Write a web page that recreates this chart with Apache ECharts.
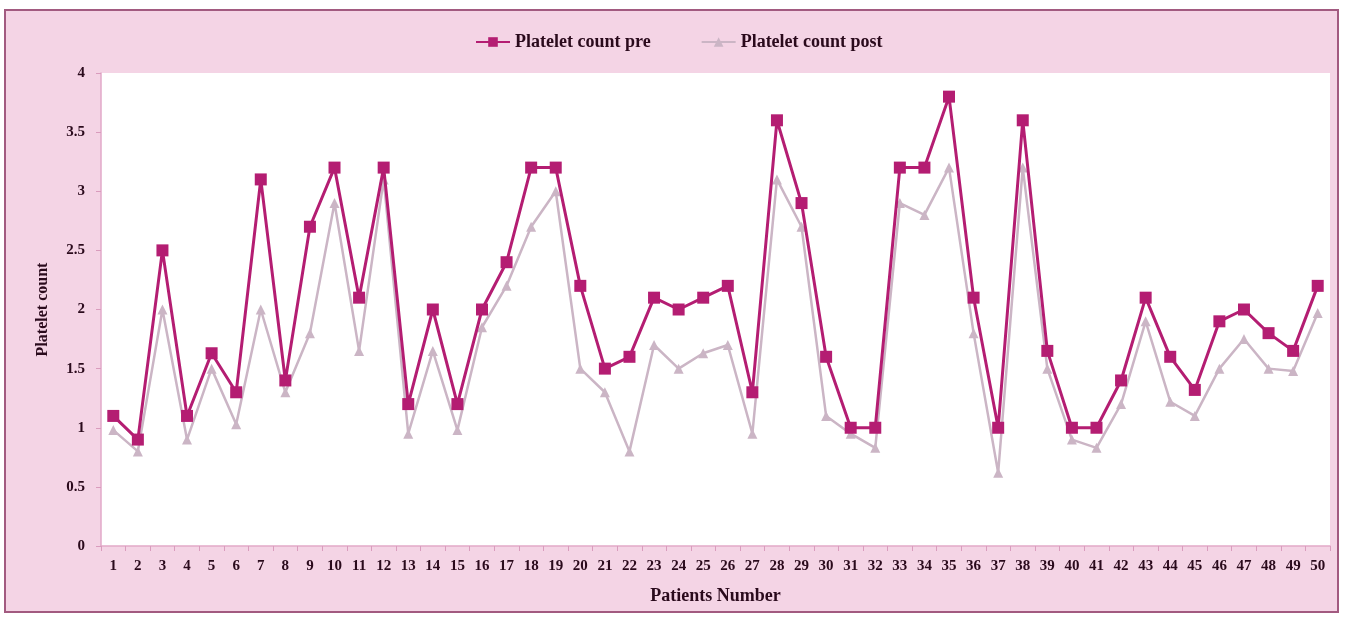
<!DOCTYPE html>
<html>
<head>
<meta charset="utf-8">
<script src="https://cdn.jsdelivr.net/npm/echarts@6/dist/echarts.min.js"></script>
<style>
  html, body { margin: 0; padding: 0; background: #ffffff; }
  #chart { width: 1347px; height: 617px; }
</style>
</head>
<body>
<div id="chart"></div>
<script>
var patients = [];
for (var i = 1; i <= 50; i++) patients.push(String(i));

var preCount = [1.1, 0.9, 2.5, 1.1, 1.63, 1.3, 3.1, 1.4, 2.7, 3.2,
  2.1, 3.2, 1.2, 2.0, 1.2, 2.0, 2.4, 3.2, 3.2, 2.2,
  1.5, 1.6, 2.1, 2.0, 2.1, 2.2, 1.3, 3.6, 2.9, 1.6,
  1.0, 1.0, 3.2, 3.2, 3.8, 2.1, 1.0, 3.6, 1.65, 1.0,
  1.0, 1.4, 2.1, 1.6, 1.32, 1.9, 2.0, 1.8, 1.65, 2.2];

var postCount = [0.98, 0.8, 2.0, 0.9, 1.5, 1.03, 2.0, 1.3, 1.8, 2.9,
  1.65, 3.1, 0.95, 1.65, 0.98, 1.85, 2.2, 2.7, 3.0, 1.5,
  1.3, 0.8, 1.7, 1.5, 1.63, 1.7, 0.95, 3.1, 2.7, 1.1,
  0.95, 0.83, 2.9, 2.8, 3.2, 1.8, 0.62, 3.2, 1.5, 0.9,
  0.83, 1.2, 1.9, 1.22, 1.1, 1.5, 1.75, 1.5, 1.48, 1.97];

var echart = echarts.init(document.getElementById("chart"));
var textFont = {
  fontFamily: "Liberation Serif",
  fontWeight: "bold",
  color: "#2a0a1c",
};

var option = {
  animation: false,
  graphic: [
    {
      type: "rect",
      z: -10,
      silent: true,
      shape: { x: 5, y: 10, width: 1333, height: 602 },
      style: { fill: "#f4d4e5", stroke: "#a25a80", lineWidth: 2 },
    },
  ],
  legend: {
    top: 28,
    left: 470,
    itemGap: 50,
    itemWidth: 34,
    itemHeight: 12,
    textStyle: Object.assign({ fontSize: 18 }, textFont),
    data: ["Platelet count pre", "Platelet count post"],
  },
  grid: {
    left: 101,
    right: 17,
    top: 73,
    bottom: 71,
    show: true,
    backgroundColor: "#ffffff",
    borderWidth: 0,
  },
  xAxis: {
    type: "category",
    data: patients,
    name: "Patients Number",
    nameLocation: "middle",
    nameGap: 41,
    nameTextStyle: Object.assign({ fontSize: 18 }, textFont),
    axisLine: { lineStyle: { color: "#e2a9c8", width: 1.5 } },
    axisTick: { show: true, length: 5, lineStyle: { color: "#d99cbd" } },
    axisLabel: Object.assign({ fontSize: 15, margin: 13, interval: 0 }, textFont),
  },
  yAxis: {
    type: "value",
    min: 0,
    max: 4,
    interval: 0.5,
    name: "Platelet count",
    nameLocation: "middle",
    nameGap: 50,
    nameTextStyle: Object.assign({ fontSize: 16 }, textFont),
    axisLine: { show: true, lineStyle: { color: "#e2a9c8", width: 1.5 } },
    axisTick: { show: true, length: 5, lineStyle: { color: "#d99cbd" } },
    axisLabel: Object.assign({ fontSize: 15, margin: 16 }, textFont),
    splitLine: { show: false },
  },
  series: [
    {
      name: "Platelet count post",
      type: "line",
      data: postCount,
      symbol: "triangle",
      symbolSize: 10,
      z: 2,
      lineStyle: { color: "#cbb5c5", width: 2.5 },
      itemStyle: { color: "#cbb5c5" },
    },
    {
      name: "Platelet count pre",
      type: "line",
      data: preCount,
      symbol: "rect",
      symbolSize: 12,
      z: 3,
      lineStyle: { color: "#b41d72", width: 3 },
      itemStyle: { color: "#b41d72" },
    },
  ],
};
echart.setOption(option);
</script>
</body>
</html>
